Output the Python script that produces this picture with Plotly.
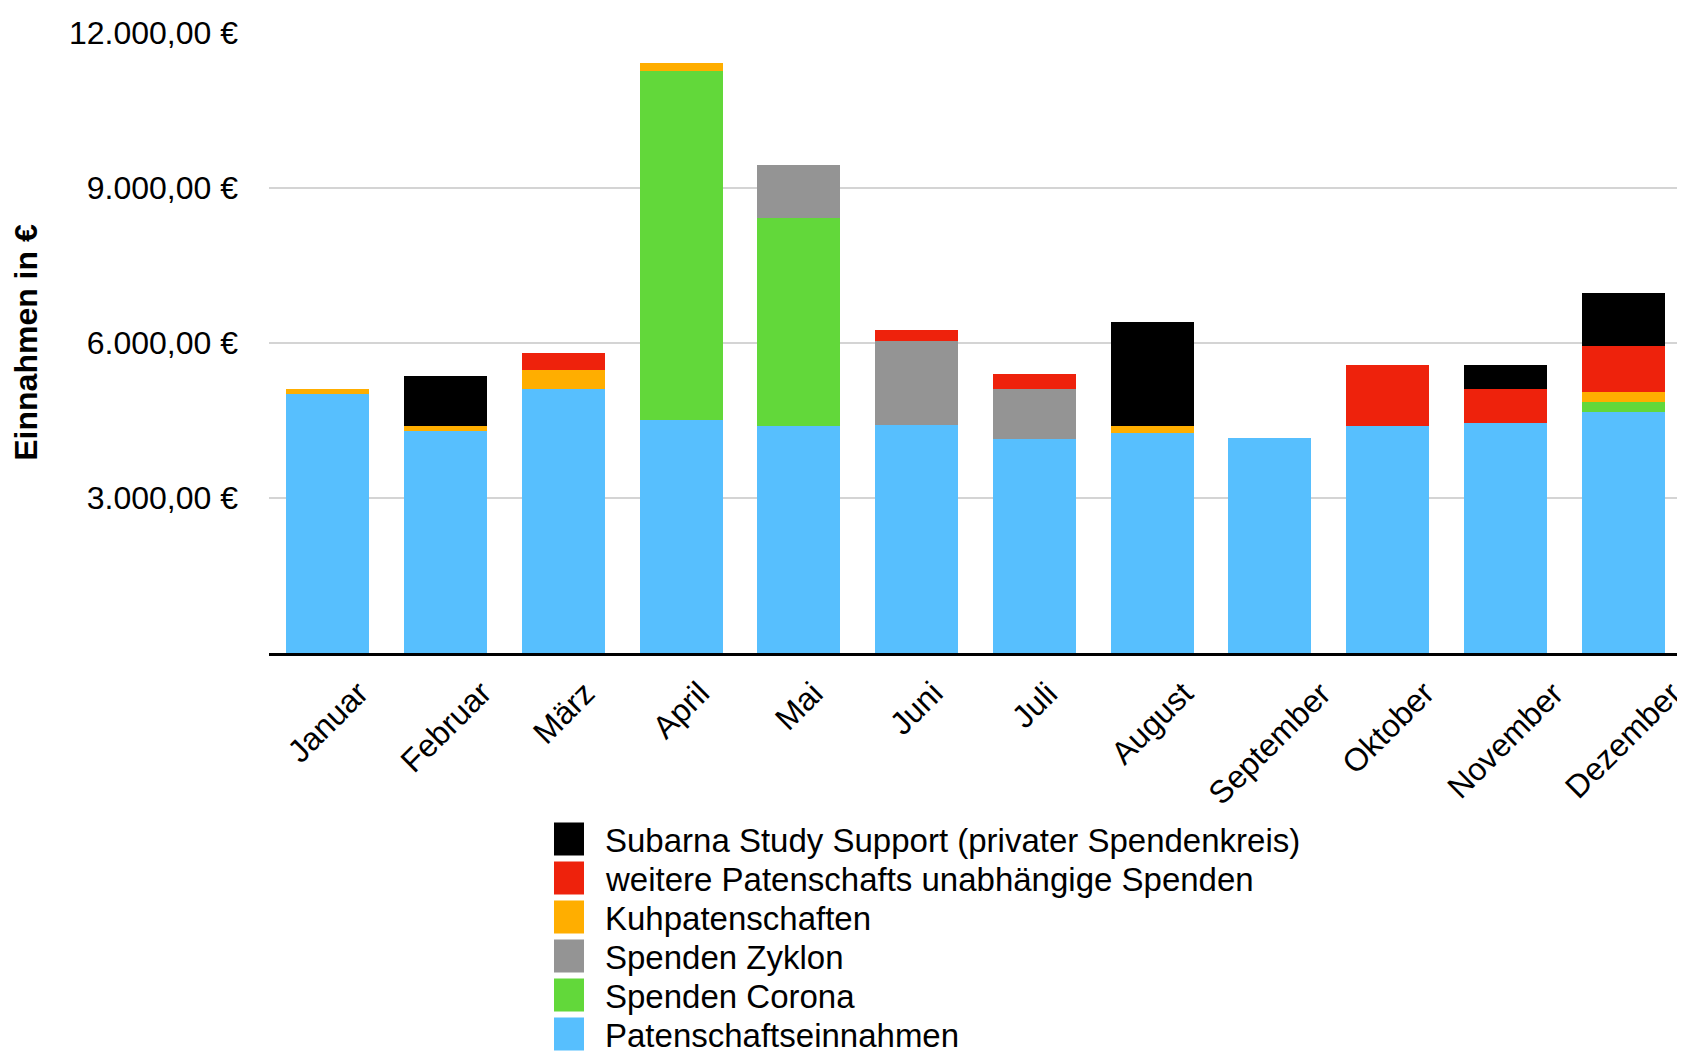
import plotly.graph_objects as go

# ---------------- data ----------------
months = ["Januar", "Februar", "März", "April", "Mai", "Juni", "Juli",
          "August", "September", "Oktober", "November", "Dezember"]

patenschaft = [5010, 4300, 5115, 4500, 4400, 4405, 4150, 4250, 4155, 4400, 4450, 4655]
corona      = [0, 0, 0, 6765, 4020, 0, 0, 0, 0, 0, 0, 207]
zyklon      = [0, 0, 0, 0, 1030, 1636, 967, 0, 0, 0, 0, 0]
kuh         = [105, 100, 367, 154, 0, 0, 0, 150, 0, 0, 0, 186]
weitere     = [0, 0, 315, 0, 0, 219, 276, 0, 0, 1178, 664, 896]
subarna     = [0, 965, 0, 0, 0, 0, 0, 2010, 0, 0, 463, 1024]

series_names = ["Patenschaftseinnahmen", "Spenden Corona", "Spenden Zyklon",
                "Kuhpatenschaften", "weitere Patenschafts unabhängige Spenden",
                "Subarna Study Support (privater Spendenkreis)"]
series_values = [patenschaft, corona, zyklon, kuh, weitere, subarna]
series_colors = ["#57BFFE", "#62D83A", "#949494", "#FFAE00", "#EE220C", "#000000"]

y_tickvals = [3000, 6000, 9000, 12000]
y_ticktext = ["3.000,00 €", "6.000,00 €", "9.000,00 €", "12.000,00 €"]

# ---------------- layout constants ----------------
OFF = 8                      # browser body margin
W, H = 1685 - OFF, 1052 - OFF
L, R, T, B = 269 - OFF, 3, 32 - OFF, 399
YMAX = 12000
FONT = "Liberation Sans, Arial, Helvetica, sans-serif"
FS = 32

fig = go.Figure()
for name, vals, col in zip(series_names, series_values, series_colors):
    fig.add_trace(go.Bar(
        x=months, y=[v if v else None for v in vals], name=name,
        marker=dict(color=col, line=dict(width=0)),
        showlegend=False,
    ))

# month labels centred under the bars, rotated 45°
annotations = []
for m in months:
    annotations.append(dict(
        x=m, xref="x", y=0, yref="paper", yshift=-19,
        text=m, showarrow=False, textangle=-45,
        xanchor="center", yanchor="top",
        font=dict(family=FONT, size=FS, color="#000000"),
    ))

# custom legend (large square swatches), top entry = last series
plot_w = W - L - R
plot_h = H - T - B
def px_x(px):
    return (px - OFF - L) / plot_w
def px_y(py):
    return (H - B - (py - OFF)) / plot_h

shapes = []
row0, step = 839, 39
sw_left, sw_w, sw_h, text_x = 554, 30, 33, 603
for i, (name, col) in enumerate(zip(series_names[::-1], series_colors[::-1])):
    cy = row0 + i * step
    shapes.append(dict(
        type="rect", xref="paper", yref="paper",
        x0=px_x(sw_left), x1=px_x(sw_left + sw_w),
        y0=px_y(cy + sw_h / 2), y1=px_y(cy - sw_h / 2),
        fillcolor=col, line=dict(width=0),
    ))
    annotations.append(dict(
        x=px_x(text_x), xref="paper", y=px_y(cy + 1), yref="paper",
        text=name, showarrow=False, xanchor="left", yanchor="middle",
        font=dict(family=FONT, size=33, color="#000000"),
    ))

fig.update_layout(
    width=W, height=H,
    margin=dict(l=L, r=R, t=T, b=B, autoexpand=False),
    paper_bgcolor="white", plot_bgcolor="white",
    barmode="stack", bargap=0.295,
    showlegend=False,
    font=dict(family=FONT, size=FS, color="#000000"),
    annotations=annotations,
    shapes=shapes,
    xaxis=dict(
        showticklabels=False, ticks="", showgrid=False,
        showline=True, linecolor="#000000", linewidth=3,
        range=[-0.5, 11.5], fixedrange=True,
    ),
    yaxis=dict(
        range=[0, YMAX * 1.0015], tickvals=y_tickvals, ticktext=y_ticktext,
        showgrid=True, gridcolor="#D4D4D4", gridwidth=2,
        zeroline=False, showline=False, ticks="",
        ticklabelstandoff=30,
        tickfont=dict(family=FONT, size=FS, color="#000000"),
        title=dict(text="<b>Einnahmen in €</b>", standoff=27,
                   font=dict(family=FONT, size=FS, color="#000000")),
        automargin=False,
    ),
)

fig.write_html("out.html")
